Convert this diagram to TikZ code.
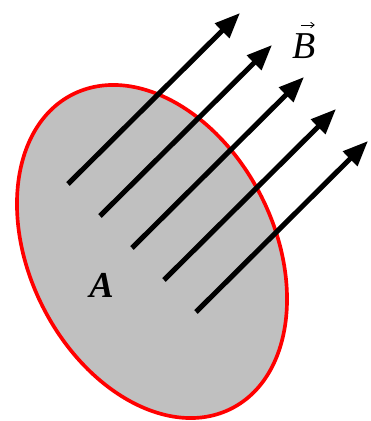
\documentclass[tikz,border=0pt]{standalone}
\usepackage{fontspec}
\setmainfont{Liberation Serif}
\usetikzlibrary{arrows.meta}
\definecolor{areagray}{HTML}{C0C0C0}
\tikzset{fluxarrow/.style={line width=3.6pt,-{Triangle[length=18pt,width=14pt]}},
	vecaccent/.style={line width=0.6pt,-{Straight Barb[length=2.5pt,width=4pt]}}}

\begin{document}
\begin{tikzpicture}
			\useasboundingbox (0,0) rectangle (9.275,10.525);
			\draw[color=red,line width=2.6pt,fill=areagray,rotate around={-63.2:(3.8,4.2375)}] (3.8,4.2375) ellipse (4.4 and 3.06);
				 \foreach \i in {0,...,4} {
				    \coordinate (s\i) at (1.7+0.8*\i,5.925-0.8*\i);
				    \coordinate (t\i) at (6.0+0.8*\i,10.2-0.8*\i);
				    \draw[fluxarrow] (s\i) -- (t\i);
				 }
				 \node (vecB) at (7.6,9.375) {\fontsize{27}{30}\selectfont\textit{B}};
				 \coordinate (accL) at (7.52,9.9);
				 \coordinate (accR) at (7.87,9.9);
				 \draw[vecaccent] (accL) -- (accR);
				 \node (areaA) at (2.54,3.4) {\fontsize{26}{30}\selectfont\textbf{\textit{A}}};
			\end{tikzpicture}
\end{document}
